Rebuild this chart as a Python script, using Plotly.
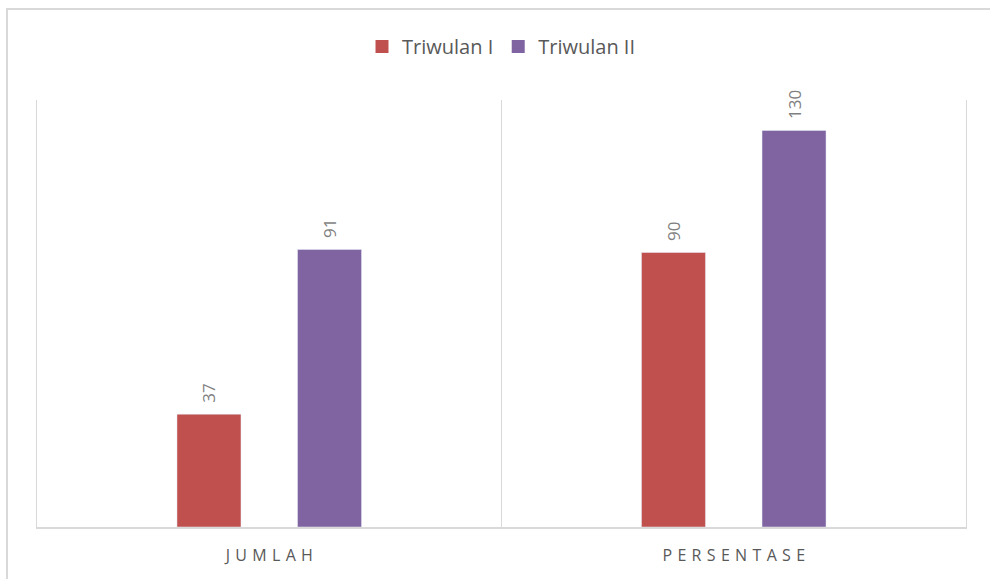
import plotly.graph_objects as go

categories = ["JUMLAH", "PERSENTASE"]
tick_labels = ["J\u2004U\u2004M\u2004L\u2004A\u2004H", "P\u2004E\u2004R\u2004S\u2004E\u2004N\u2004T\u2004A\u2004S\u2004E"]
series_names = ["Triwulan I", "Triwulan II"]
series_colors = ["#C0504D", "#8064A2"]
triwulan_1 = [37, 90]
triwulan_2 = [91, 130]

FONT = "Open Sans"
W, H = 990, 579
ml, mr, mt, mb = 37, 24, 100, 52

fig = go.Figure()
for name, vals, col in zip(series_names, [triwulan_1, triwulan_2], series_colors):
    fig.add_trace(go.Bar(name=name, x=categories, y=vals, marker_color=col, showlegend=False,
                         text=["\u2002" + str(v) for v in vals], textposition="outside", textangle=-90,
                         textfont=dict(color="#7f7f7f", size=17, family=FONT), cliponaxis=False))
for name, col in zip(series_names, series_colors):
    fig.add_trace(go.Scatter(name=name, x=[None], y=[None], mode="markers",
                             marker=dict(symbol="square", size=13, color=col), showlegend=True))

pw = W - ml - mr
ph = H - mt - mb
fig.add_shape(type="rect", xref="paper", yref="paper",
              x0=(7 - ml) / pw, x1=(1010 - ml) / pw,
              y0=(527 - 600) / ph, y1=(527 - 9) / ph,
              line=dict(color="#d9d9d9", width=2), layer="below")

fig.update_layout(
    width=W, height=H,
    margin=dict(l=ml, r=mr, t=mt, b=mb),
    paper_bgcolor="white", plot_bgcolor="white",
    barmode="group", bargap=0.481, bargroupgap=0.469,
    font=dict(family=FONT, color="#595959"),
    showlegend=True,
    legend=dict(orientation="h", x=0.5, xanchor="center", y=(527 - 27) / ph, yanchor="top",
                font=dict(size=20, color="#595959", family=FONT), itemwidth=30,
                traceorder="normal"),
    xaxis=dict(tickvals=categories, ticktext=tick_labels, tickson="boundaries",
               showgrid=True, gridcolor="#d9d9d9", gridwidth=1,
               showline=True, linecolor="#d9d9d9", linewidth=2,
               ticks="", ticklabelstandoff=13,
               tickfont=dict(size=16, color="#595959", family=FONT)),
    yaxis=dict(range=[0, 140], showgrid=False, showticklabels=False, zeroline=False,
               showline=True, mirror=True, linecolor="#d9d9d9", linewidth=1, ticks=""),
)

fig.write_html("out.html")
